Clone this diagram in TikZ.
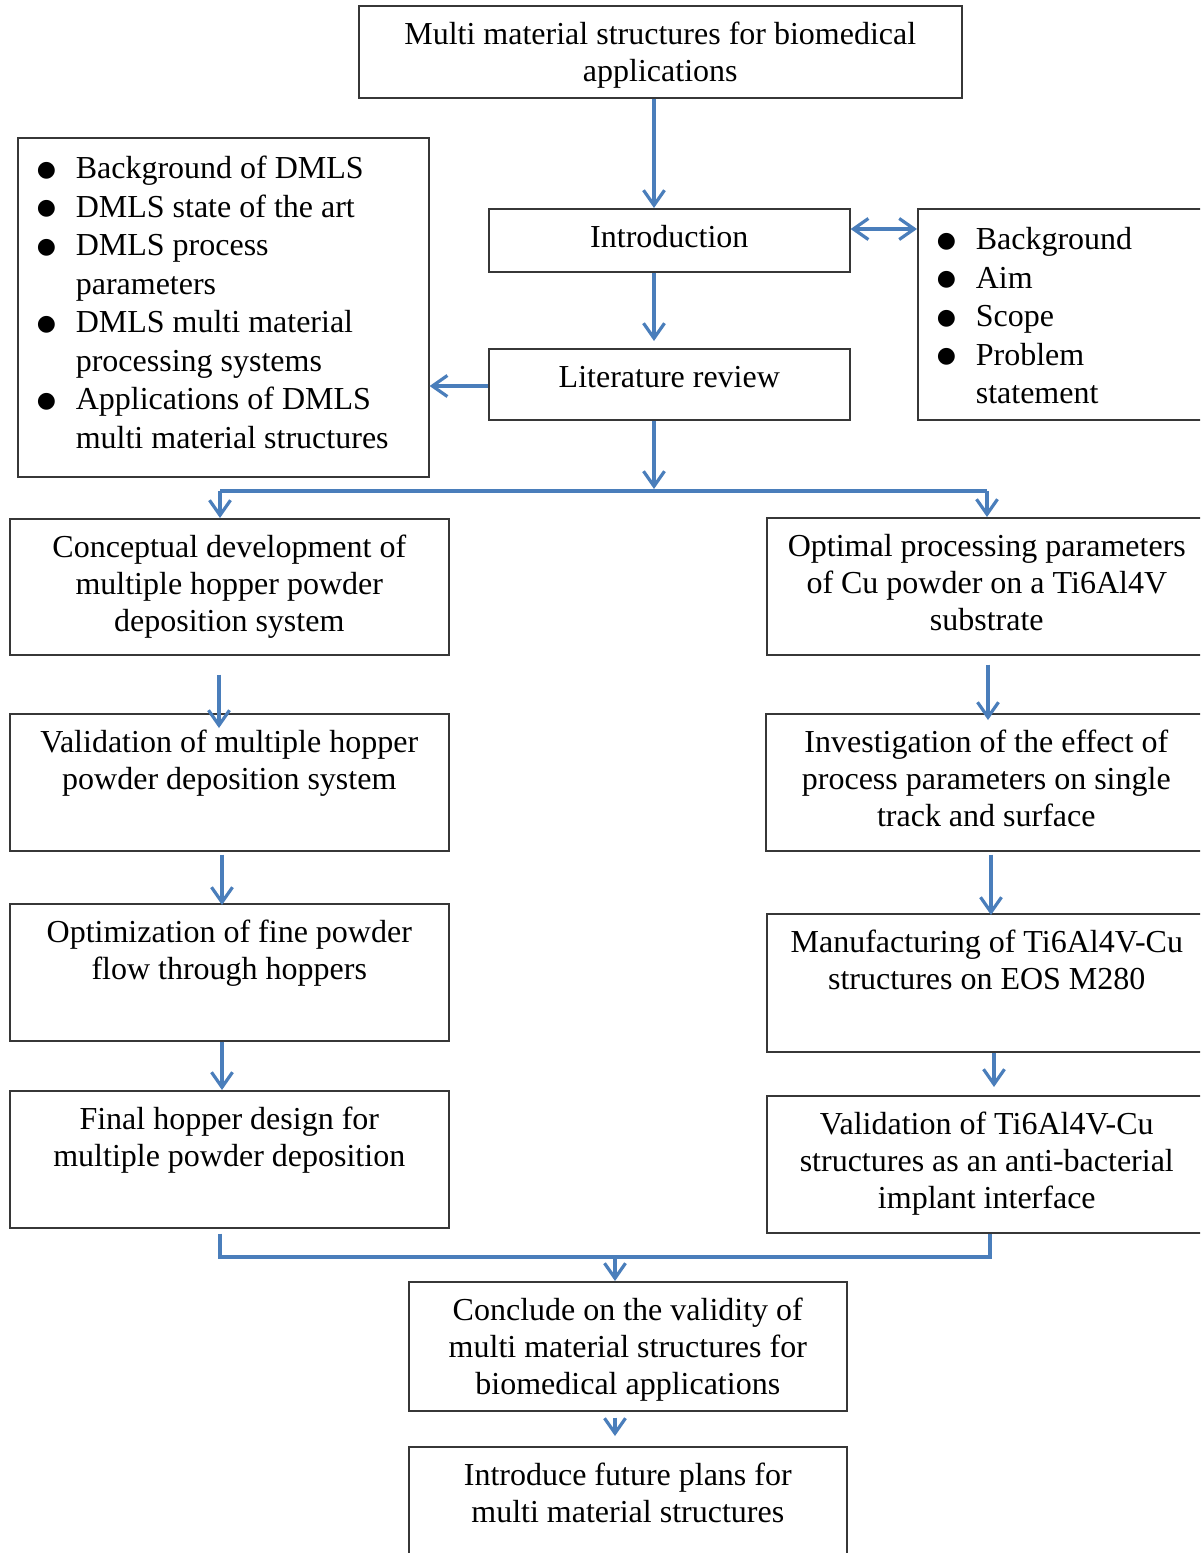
\documentclass[tikz,border=0pt]{standalone}
\usepackage{fontspec}
\setmainfont{Liberation Serif}
\newfontfamily\bulfont{DejaVu Sans}
\usetikzlibrary{arrows.meta,calc}
\definecolor{arrblue}{RGB}{74,126,187}
\definecolor{boxgray}{RGB}{55,55,55}
\newcommand{\ctext}[3]{\parbox[c][#2][t]{#1}{\fontsize{32}{37}\selectfont\centering\vspace*{13pt}\strut#3\par}}
\newcommand{\ltext}[3]{\parbox[c][#2][t]{#1}{\fontsize{32}{38.5}\selectfont\raggedright\vspace*{14pt}#3\par}}
\newcommand{\bigbul}{\raisebox{2.5pt}{\bulfont\fontsize{22}{22}\selectfont ●}}
\newcommand{\bitem}[1]{\par\hangindent=58pt\hangafter=1\noindent\hspace*{19pt}\makebox[39pt][l]{\bigbul}\strut#1}
\begin{document}
\begin{tikzpicture}[x=1pt,y=-1pt,
  bx/.style={draw=boxgray,line width=1.6pt,inner sep=0pt,anchor=north west},
  tipv/.tip={Straight Barb[length=15pt,width=21pt]},
  arr/.style={draw=arrblue,line width=3.2pt,-tipv},
  arrtwo/.style={draw=arrblue,line width=3.2pt,tipv-tipv},
  ln/.style={draw=arrblue,line width=3.2pt}]
\clip (0,0) rectangle (1200,1553);
\fill[white] (0,0) rectangle (1200,1553);
% boxes
\node[bx] (top) at (358,5) {\ctext{603pt}{92pt}{Multi material structures for biomedical\\applications}};
\node[bx] (intro) at (488,208) {\ctext{361pt}{63pt}{Introduction}};
\node[bx] (lit) at (488,348) {\ctext{361pt}{71pt}{Literature review}};
\node[bx] (rlist) at (917,208) {\ltext{300pt}{211pt}{\bitem{Background}\bitem{Aim}\bitem{Scope}\bitem{Problem\newline statement}}};
\node[bx] (llist) at (17,137) {\ltext{411pt}{339pt}{\bitem{Background of DMLS}\bitem{DMLS state of the art}\bitem{DMLS process\newline parameters}\bitem{DMLS multi material\newline processing systems}\bitem{Applications of DMLS\newline multi material structures}}};
\node[bx] (c1) at (9,518) {\ctext{439pt}{136pt}{Conceptual development of\\multiple hopper powder\\deposition system}};
\node[bx] (c2) at (9,713) {\ctext{439pt}{137pt}{Validation of multiple hopper\\powder deposition system}};
\node[bx] (c3) at (9,903) {\ctext{439pt}{137pt}{Optimization of fine powder\\flow through hoppers}};
\node[bx] (c4) at (9,1090) {\ctext{439pt}{137pt}{Final hopper design for\\multiple powder deposition}};
\node[bx] (d1) at (766,517) {\ctext{440pt}{137pt}{Optimal processing parameters\\of Cu powder on a Ti6Al4V\\substrate}};
\node[bx] (d2) at (765,713) {\ctext{441pt}{137pt}{Investigation of the effect of\\process parameters on single\\track and surface}};
\node[bx] (d3) at (766,913) {\ctext{440pt}{138pt}{Manufacturing of Ti6Al4V-Cu\\structures on EOS M280}};
\node[bx] (d4) at (766,1095) {\ctext{440pt}{137pt}{Validation of Ti6Al4V-Cu\\structures as an anti-bacterial\\implant interface}};
\node[bx] (e1) at (408,1281) {\ctext{438pt}{129pt}{Conclude on the validity of\\multi material structures for\\biomedical applications}};
\node[bx] (e2) at (408,1446) {\ctext{438pt}{130pt}{Introduce future plans for\\multi material structures}};
% helper coordinates
\coordinate (xa) at (654,0);
\coordinate (ya) at (0,229);
\coordinate (yc) at (0,386);
\coordinate (br) at (654,491);
\coordinate (bl) at (220,491);
\coordinate (bR) at (987,491);
\coordinate (x1) at (219,0);
\coordinate (x2) at (222,0);
\coordinate (x3) at (988,0);
\coordinate (x4) at (991,0);
\coordinate (x5) at (994,0);
\coordinate (ml) at (220,1257);
\coordinate (mr) at (990,1257);
\coordinate (mc) at (615,1257);
% connectors
\draw[arr] (top.south -| xa) -- (intro.north -| xa);
\draw[arrtwo] (intro.east |- ya) -- (rlist.west |- ya);
\draw[arr] (intro.south -| xa) -- ($(lit.north -| xa)+(0,-7)$);
\draw[arr] (lit.west |- yc) -- (llist.east |- yc);
\draw[arr] (lit.south -| br) -- ($(br)+(0,-2)$);
\draw[ln] (bl) -- (bR);
\draw[arr] (bl) -- (c1.north -| bl);
\draw[arr] (bR) -- (d1.north -| bR);
\draw[arr] ($(c1.south -| x1)+(0,19)$) -- ($(c2.north -| x1)+(0,15)$);
\draw[arr] ($(c2.south -| x2)+(0,3)$) -- ($(c3.north -| x2)+(0,2)$);
\draw[arr] (c3.south -| x2) -- (c4.north -| x2);
\draw[arr] ($(d1.south -| x3)+(0,9)$) -- ($(d2.north -| x3)+(0,7)$);
\draw[arr] ($(d2.south -| x4)+(0,3)$) -- ($(d3.north -| x4)+(0,2)$);
\draw[arr] (d3.south -| x5) -- ($(d4.north -| x5)+(0,-8)$);
\draw[ln] ($(c4.south -| ml)+(0,5)$) -- (ml) -- (mr) -- (d4.south -| mr);
\draw[arr] (mc) -- (e1.north -| mc);
\draw[arr] ($(e1.south -| mc)+(0,6)$) -- ($(e2.north -| mc)+(0,-10)$);
\end{tikzpicture}
\end{document}
